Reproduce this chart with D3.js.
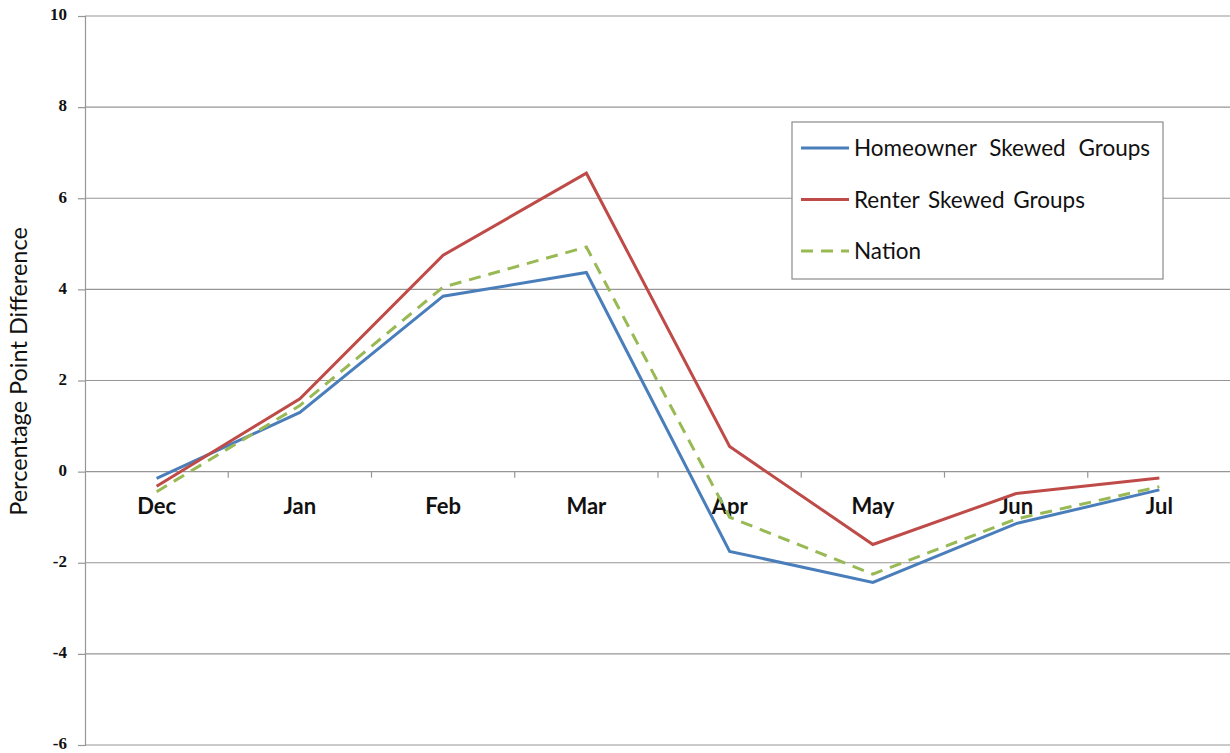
<!DOCTYPE html>
<html>
<head>
<meta charset="utf-8">
<script src="https://cdn.jsdelivr.net/npm/d3@7/dist/d3.min.js"></script>
<style>
  html, body { margin: 0; padding: 0; background: #fff; }
  svg { display: block; }
</style>
</head>
<body>
<svg id="chart" width="1230" height="753"></svg>
<script>
// Monthly change, percentage points
const months = ["Dec", "Jan", "Feb", "Mar", "Apr", "May", "Jun", "Jul"];
const homeowner = [-0.15, 1.3, 3.85, 4.37, -1.75, -2.43, -1.14, -0.4];
const renter = [-0.32, 1.6, 4.75, 6.55, 0.55, -1.6, -0.48, -0.14];
const nation = [-0.44, 1.45, 4.05, 4.93, -1.0, -2.25, -1.04, -0.33];
const yTicks = [-6, -4, -2, 0, 2, 4, 6, 8, 10];
const seriesNames = ["Homeowner Skewed Groups", "Renter Skewed Groups", "Nation"];

const series = [
  { name: seriesNames[0], values: homeowner, color: "#4A7EBB", dash: null, spacing: 7 },
  { name: seriesNames[1], values: renter, color: "#BE4B48", dash: null, spacing: 3 },
  { name: seriesNames[2], values: nation, color: "#98B954", dash: "12,8", spacing: 3 }
];

const svg = d3.select("#chart");
const plotLeft = 85, plotRight = 1231, plotTop = 16, plotBottom = 745;

const x = d3.scaleBand().domain(months).range([plotLeft, plotRight]).padding(0);
const y = d3.scaleLinear().domain([-6, 10]).range([plotBottom, plotTop]);
const cx = m => x(m) + x.bandwidth() / 2;

// horizontal gridlines
svg.append("g")
  .selectAll("line")
  .data(yTicks)
  .join("line")
  .attr("x1", plotLeft).attr("x2", plotRight)
  .attr("y1", d => y(d)).attr("y2", d => y(d))
  .attr("stroke", "#969696").attr("stroke-width", 1.2);

// y axis (plain hyphen for negatives)
const yAxis = svg.append("g")
  .attr("transform", `translate(${plotLeft},0)`)
  .call(d3.axisLeft(y).tickValues(yTicks).tickFormat(d => String(d)).tickSize(7).tickPadding(11));
yAxis.select(".domain").attr("stroke", "#969696").attr("stroke-width", 1.2);
yAxis.selectAll(".tick line").attr("stroke", "#969696").attr("stroke-width", 1.2);
yAxis.selectAll(".tick text")
  .attr("font-family", "Liberation Serif, serif")
  .attr("font-weight", "bold")
  .attr("font-size", 17)
  .attr("dy", "0.22em")
  .attr("fill", "#111");

// category axis along zero, ticks at band edges
const xg = svg.append("g");
xg.selectAll("line")
  .data(months.slice(1))
  .join("line")
  .attr("x1", d => x(d)).attr("x2", d => x(d))
  .attr("y1", y(0)).attr("y2", y(0) + 6)
  .attr("stroke", "#969696").attr("stroke-width", 1.2);
xg.selectAll("text")
  .data(months)
  .join("text")
  .attr("x", d => cx(d))
  .attr("y", y(0) + 42)
  .attr("text-anchor", "middle")
  .attr("font-family", "Lato, sans-serif")
  .attr("font-weight", "bold")
  .attr("font-size", 22)
  .attr("fill", "#111")
  .text(d => d);

// y axis title
svg.append("text")
  .attr("transform", `translate(27,${(y(10) + y(-6)) / 2 - 9}) rotate(-90)`)
  .attr("text-anchor", "middle")
  .attr("font-family", "Lato, sans-serif")
  .attr("font-size", 23.5)
  .attr("fill", "#111")
  .text("Percentage Point Difference");

// series lines
const line = d3.line().x((d, i) => cx(months[i])).y(d => y(d));
svg.append("g")
  .selectAll("path")
  .data(series)
  .join("path")
  .attr("d", d => line(d.values))
  .attr("fill", "none")
  .attr("stroke", d => d.color)
  .attr("stroke-width", 3)
  .attr("stroke-linejoin", "miter")
  .attr("stroke-dasharray", d => d.dash);

// legend
const lg = svg.append("g").attr("transform", "translate(792,122)");
lg.append("rect")
  .attr("width", 371).attr("height", 157)
  .attr("fill", "#fff")
  .attr("stroke", "#8a8a8a").attr("stroke-width", 1.2);
const items = lg.selectAll("g.item")
  .data(series)
  .join("g")
  .attr("class", "item")
  .attr("transform", (d, i) => `translate(0,${26 + i * 51.5})`);
items.append("line")
  .attr("x1", 9).attr("x2", 57)
  .attr("stroke", d => d.color)
  .attr("stroke-width", 3)
  .attr("stroke-dasharray", d => d.dash);
items.append("text")
  .attr("x", 62)
  .attr("y", 8)
  .attr("font-family", "Lato, sans-serif")
  .attr("font-size", 22.5)
  .attr("word-spacing", d => d.spacing)
  .attr("fill", "#111")
  .text(d => d.name);
</script>
</body>
</html>
